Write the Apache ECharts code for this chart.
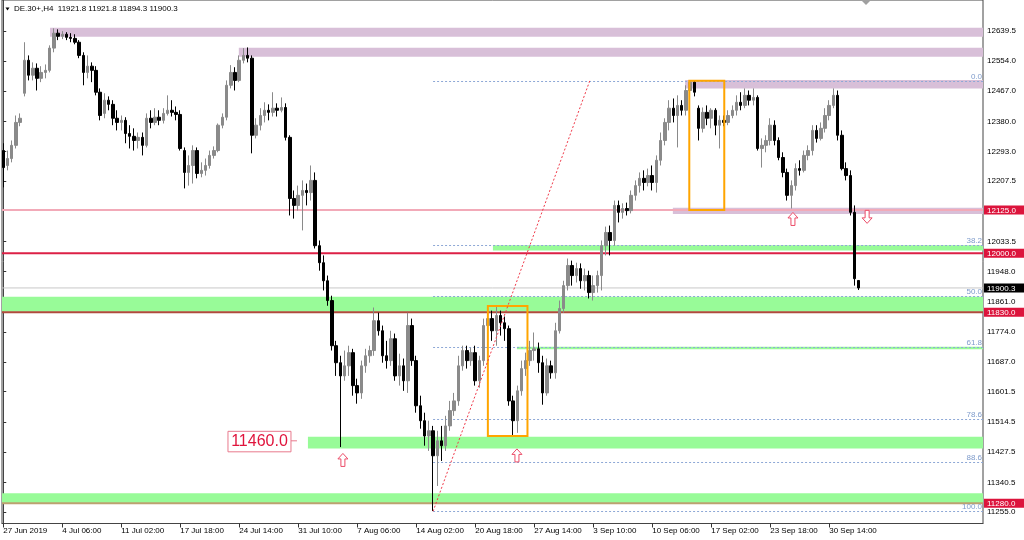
<!DOCTYPE html>
<html><head><meta charset="utf-8">
<script src="https://cdn.jsdelivr.net/npm/echarts@6/dist/echarts.min.js"></script>
<style>html,body{margin:0;padding:0;background:#fff}#c{width:1024px;height:540px}</style>
</head><body><div id="c"></div>
<script>
// ---------- data ----------
const symbolTitle = 'DE.30+,H4';
const lastBarOHLC = [11921.8, 11921.8, 11894.3, 11900.3];

const xTickIndex = [0,14,28,42,56,70,84,98,112,126,140,154,168,182,196];
const xTickLabels = ['27 Jun 2019','4 Jul 06:00','11 Jul 02:00','17 Jul 18:00','24 Jul 14:00','31 Jul 10:00','7 Aug 06:00','14 Aug 02:00','20 Aug 18:00','27 Aug 14:00','3 Sep 10:00','10 Sep 06:00','17 Sep 02:00','23 Sep 18:00','30 Sep 14:00'];
const yTickValues = [12639.5,12554.0,12467.0,12380.0,12293.0,12207.5,12033.5,11948.0,11861.0,11774.0,11687.0,11601.5,11514.5,11427.5,11340.5,11255.0];

// candles: [open, close, low, high]
const candles = [
[12296,12247,12190,12317],[12253,12273,12239,12296],[12273,12311,12262,12325],[12311,12377,12302,12397],[12377,12389,12366,12403],
[12461,12556,12452,12608],[12556,12513,12498,12570],[12513,12533,12498,12550],[12533,12504,12469,12547],[12504,12521,12493,12539],
[12521,12527,12504,12544],[12527,12591,12521,12599],[12591,12634,12579,12648],[12634,12625,12614,12645],[12625,12631,12617,12640],
[12631,12622,12614,12637],[12622,12619,12608,12634],[12619,12608,12602,12631],[12608,12570,12562,12614],[12570,12521,12484,12579],
[12521,12539,12504,12570],[12539,12527,12493,12550],[12527,12464,12455,12539],[12464,12397,12383,12475],[12403,12441,12389,12461],
[12441,12429,12412,12452],[12429,12389,12369,12441],[12389,12377,12354,12412],[12377,12383,12354,12397],[12383,12345,12317,12392],
[12345,12337,12302,12369],[12337,12325,12296,12360],[12325,12334,12302,12348],[12334,12311,12282,12348],[12311,12389,12305,12403],
[12389,12377,12360,12412],[12377,12392,12369,12418],[12392,12383,12369,12412],[12383,12403,12374,12418],[12403,12412,12397,12455],
[12412,12406,12394,12441],[12406,12400,12383,12423],[12400,12302,12296,12412],[12296,12233,12187,12305],[12233,12253,12195,12282],
[12253,12296,12201,12311],[12296,12230,12216,12305],[12230,12239,12219,12262],[12239,12253,12224,12273],[12253,12282,12244,12296],
[12282,12296,12273,12308],[12296,12369,12291,12374],[12369,12392,12360,12403],[12392,12484,12383,12498],[12484,12521,12475,12542],
[12521,12498,12469,12536],[12498,12556,12493,12570],[12556,12570,12547,12591],[12570,12562,12550,12593],[12562,12340,12288,12570],
[12340,12369,12331,12389],[12369,12397,12354,12418],[12397,12412,12377,12435],[12412,12406,12383,12429],[12406,12418,12394,12464],
[12418,12412,12394,12432],[12412,12420,12406,12449],[12420,12334,12325,12432],[12334,12158,12109,12340],[12158,12138,12100,12181],
[12138,12167,12123,12195],[12167,12181,12066,12210],[12181,12175,12138,12201],[12175,12210,12152,12253],[12210,12022,12014,12233],
[12022,11973,11950,12037],[11973,11921,11893,11994],[11921,11864,11849,11936],[11864,11734,11720,11878],[11734,11685,11647,11748],
[11685,11647,11442,11705],[11647,11676,11633,11720],[11676,11714,11647,11734],[11714,11619,11590,11725],[11619,11598,11567,11639],
[11598,11676,11581,11691],[11676,11705,11656,11725],[11705,11720,11685,11734],[11720,11806,11705,11844],[11806,11777,11763,11829],
[11777,11705,11685,11792],[11705,11691,11668,11748],[11691,11754,11676,11777],[11754,11647,11633,11769],[11647,11676,11619,11711],
[11676,11633,11604,11697],[11633,11792,11598,11829],[11792,11691,11676,11812],[11691,11561,11541,11705],[11561,11518,11495,11590],
[11518,11474,11446,11541],[11474,11489,11431,11518],[11489,11417,11258,11503],[11417,11460,11330,11489],[11460,11446,11402,11503],
[11446,11503,11431,11532],[11503,11547,11489,11575],[11547,11575,11532,11598],[11575,11676,11561,11705],[11676,11720,11662,11734],
[11720,11691,11668,11734],[11691,11714,11676,11728],[11714,11633,11619,11734],[11633,11691,11613,11705],[11691,11792,11676,11812],
[11792,11812,11763,11841],[11812,11777,11748,11835],[11777,11821,11734,11846],[11821,11800,11763,11835],[11800,11783,11748,11818],
[11783,11575,11561,11792],[11575,11518,11472,11590],[11518,11604,11483,11619],[11604,11668,11590,11691],[11668,11691,11647,11714],
[11691,11720,11676,11748],[11720,11725,11691,11772],[11725,11685,11656,11743],[11685,11598,11564,11705],[11598,11676,11590,11697],
[11676,11656,11639,11691],[11656,11777,11639,11800],[11777,11841,11769,11864],[11841,11907,11829,11921],[11907,11965,11893,11985],
[11965,11936,11907,11979],[11936,11956,11916,11973],[11956,11921,11898,11971],[11921,11936,11893,11956],[11936,11887,11870,11950],
[11887,11907,11864,11936],[11907,11936,11887,11950],[11936,12022,11893,12037],[12022,12060,11994,12077],[12060,12037,11994,12080],
[12037,12138,12022,12152],[12138,12118,12089,12152],[12118,12129,12100,12144],[12129,12123,12109,12146],[12123,12167,12115,12181],
[12167,12195,12152,12210],[12195,12216,12175,12233],[12216,12204,12181,12239],[12204,12224,12193,12244],[12224,12204,12181,12253],
[12204,12268,12175,12282],[12268,12325,12253,12348],[12325,12377,12311,12389],[12377,12418,12354,12441],[12418,12397,12377,12446],
[12397,12426,12305,12455],[12426,12412,12397,12441],[12412,12469,12397,12484],[12469,12493,12455,12498],[12493,12464,12452,12498],
[12418,12360,12325,12426],[12360,12406,12348,12420],[12406,12389,12369,12426],[12389,12412,12360,12418],[12412,12369,12340,12418],
[12369,12383,12302,12397],[12383,12377,12366,12397],[12377,12397,12369,12412],[12397,12412,12389,12426],[12412,12435,12397,12455],
[12435,12426,12412,12464],[12426,12455,12418,12475],[12455,12441,12426,12469],[12441,12449,12426,12475],[12449,12302,12296,12455],
[12302,12311,12247,12331],[12311,12325,12291,12340],[12325,12369,12311,12389],[12369,12325,12311,12383],[12325,12276,12268,12334],
[12276,12233,12219,12291],[12233,12167,12152,12244],[12167,12195,12129,12210],[12195,12244,12181,12259],[12244,12239,12224,12268],
[12239,12282,12233,12296],[12282,12296,12268,12311],[12296,12354,12282,12369],[12354,12331,12319,12369],[12331,12360,12325,12377],
[12360,12397,12348,12418],[12397,12426,12383,12441],[12426,12455,12418,12475],[12455,12340,12325,12469],[12340,12244,12239,12354],
[12244,12224,12210,12262],[12224,12118,12109,12239],[12118,11927,11907,12138],[11921.8,11900.3,11894.3,11921.8]
];

// axis ranges (bar index / price)
const X_MIN = -0.3, X_MAX = 232.5;
const Y_MIN = 11221.9, Y_MAX = 12729.6;

// zones: [fromBar, toBar, priceA, priceB]
const purpleZones = [[11.1,X_MAX,12650,12624],[55.9,X_MAX,12592,12566],[161.8,X_MAX,12499,12475],[158.9,X_MAX,12131,12113]];
const greenZones  = [[116.2,X_MAX,12023,12008],[X_MIN,X_MAX,11875,11832],[121.9,X_MAX,11731,11724],[72.3,X_MAX,11472,11438],[X_MIN,X_MAX,11309,11280]];
const orangeBoxes = [[115.0,124.4,11848,11474],[162.8,171.1,12497,12125]];

// horizontal levels
const levelPrices = [12125.0, 12000.0, 11900.3, 11830.0, 11280.0];
const levelStyles = [
  {stroke:'#F2AAB8', w:2, tag:'#DC143C'},
  {stroke:'#DC2046', w:2, tag:'#DC143C'},
  {stroke:'#C8C8C8', w:1, tag:'#000000'},
  {stroke:'#B04A3C', w:2, tag:'#DC143C'},
  {stroke:'#BCA070', w:2, tag:'#DC143C'}
];

// fibonacci
const fibAnchorLow = [102, 11257];
const fibAnchorHigh = [139.2, 12497.5];
const fibLevels = [0, 38.2, 50, 61.8, 78.6, 88.6, 100];

// arrows [bar, price]
const upArrows = [[80.6, 11405],[121.9, 11418],[187.4, 12099]];
const downArrows = [[205.0, 12105]];
// left price label [bar, price]
const priceLabel = [[69.7, 11460.0]];

// ---------- chart ----------
const FONT = '"Liberation Sans", Arial, sans-serif';
const chart = echarts.init(document.getElementById('c'), null, {renderer:'canvas'});

function zoneSeries(rows, fill, z) {
  return {
    type:'custom', z, silent:true, clip:false, data: rows,
    renderItem(params, api) {
      const cs = params.coordSys;
      const a = api.coord([api.value(0), api.value(2)]);
      const b = api.coord([api.value(1), api.value(3)]);
      const x1 = Math.max(cs.x, Math.min(a[0], b[0]));
      const x2 = Math.min(cs.x + cs.width, Math.max(a[0], b[0]));
      return {type:'rect', shape:{x:x1, y:Math.min(a[1], b[1]), width:x2 - x1, height:Math.abs(b[1] - a[1])}, style:{fill}};
    }
  };
}

function boxSeries(rows, stroke, z) {
  return {
    type:'custom', z, silent:true, clip:false, data: rows,
    renderItem(params, api) {
      const a = api.coord([api.value(0), api.value(2)]);
      const b = api.coord([api.value(1), api.value(3)]);
      return {type:'rect', shape:{x:Math.min(a[0],b[0]), y:Math.min(a[1],b[1]), width:Math.abs(b[0]-a[0]), height:Math.abs(b[1]-a[1])},
        style:{fill:'none', stroke, lineWidth:2}};
    }
  };
}

function arrowSeries(rows, dir, z) {
  const pts = [[0,-6.5],[5,-1],[2,-1],[2,6.5],[-2,6.5],[-2,-1],[-5,-1]];
  return {
    type:'custom', z, silent:true, clip:false, data: rows,
    renderItem(params, api) {
      const p = api.coord([api.value(0), api.value(1)]);
      return {type:'polygon', shape:{points: pts.map(q => [p[0] + q[0], p[1] + q[1]*dir])},
        style:{fill:'#ffffff', stroke:'#EC4C68', lineWidth:1}};
    }
  };
}

const option = {
  animation:false,
  backgroundColor:'#ffffff',
  grid:{left:2, right:41, top:0, bottom:16.5, show:true, borderColor:'#444', borderWidth:1, backgroundColor:'transparent', outerBoundsMode:'none'},
  xAxis:{
    type:'value', min:X_MIN, max:X_MAX, splitLine:{show:false},
    axisLine:{show:true, lineStyle:{color:'#444'}},
    axisTick:{show:true, customValues:xTickIndex, length:4, lineStyle:{color:'#333'}},
    axisLabel:{show:true, customValues:xTickIndex, align:'left', margin:3, color:'#000', fontSize:8, fontFamily:FONT,
      formatter:(v) => { const k = xTickIndex.indexOf(Math.round(v)); return k >= 0 ? xTickLabels[k] : ''; }}
  },
  yAxis:{
    type:'value', position:'right', min:Y_MIN, max:Y_MAX, splitLine:{show:false},
    axisLine:{show:true, lineStyle:{color:'#444'}},
    axisTick:{show:true, customValues:yTickValues, length:3, lineStyle:{color:'#333'}},
    axisLabel:{show:true, customValues:yTickValues, margin:4, color:'#000', fontSize:8, fontFamily:FONT,
      formatter:(v) => v.toFixed(1)}
  },
  graphic:[
    {type:'polygon', shape:{points:[[5.5,7.5],[9.5,7.5],[7.5,10.5]]}, style:{fill:'#000'}, z:100},
    {type:'text', x:14, y:9, style:{text: symbolTitle + '  ' + lastBarOHLC.map(v => v.toFixed(1)).join(' '),
      fill:'#000', fontSize:8, fontFamily:FONT, verticalAlign:'middle'}, z:100},
    {type:'polygon', shape:{points:[[862,1],[870,1],[866,5]]}, style:{fill:'#A0A0A0'}, z:100}
  ],
  series:[
    zoneSeries(purpleZones, '#D8BFD8', 1),
    zoneSeries(greenZones, '#98FB98', 1),
    {
      type:'custom', z:2, silent:true, clip:false, data: levelPrices.map(p => [p]),
      renderItem(params, api) {
        const cs = params.coordSys;
        const st = levelStyles[params.dataIndex];
        const price = api.value(0);
        const y = api.coord([0, price])[1];
        return {type:'group', children:[
          {type:'line', shape:{x1:cs.x, y1:y, x2:cs.x + cs.width, y2:y}, style:{stroke:st.stroke, lineWidth:st.w}},
          {type:'rect', shape:{x:cs.x + cs.width + 1, y:y - 4.5, width:40, height:9}, style:{fill:st.tag}},
          {type:'text', style:{text:price.toFixed(1), x:cs.x + cs.width + 4, y:y + 0.5, fill:'#fff', fontSize:8, fontFamily:FONT, verticalAlign:'middle', align:'left'}}
        ]};
      }
    },
    {
      type:'custom', z:2, silent:true, clip:false, data: fibLevels.map(l => [l]),
      renderItem(params, api) {
        const cs = params.coordSys;
        const lvl = api.value(0);
        const price = fibAnchorHigh[1] - lvl / 100 * (fibAnchorHigh[1] - fibAnchorLow[1]);
        const p = api.coord([fibAnchorLow[0], price]);
        const y = Math.round(p[1]) + 0.5;
        return {type:'group', children:[
          {type:'line', shape:{x1:p[0], y1:y, x2:cs.x + cs.width, y2:y}, style:{stroke:'#8EA8D6', lineWidth:1, lineDash:[2,2]}},
          {type:'text', style:{text:lvl.toFixed(1), x:cs.x + cs.width - 1, y:y - 1, fill:'#7E9BCB', fontSize:8, fontFamily:FONT, align:'right', verticalAlign:'bottom'}}
        ]};
      }
    },
    {
      type:'candlestick', z:3, silent:true, barWidth:3,
      data: candles.map((c, i) => [i, c[0], c[1], c[2], c[3]]),
      itemStyle:{color:'#8a8a8a', color0:'#000000', borderColor:'#8a8a8a', borderColor0:'#000000', borderWidth:1}
    },
    boxSeries(orangeBoxes, '#FFA500', 4),
    {
      type:'custom', z:4, silent:true, clip:false, data:[[fibAnchorLow[0], fibAnchorLow[1], fibAnchorHigh[0], fibAnchorHigh[1]]],
      renderItem(params, api) {
        const a = api.coord([api.value(0), api.value(1)]);
        const b = api.coord([api.value(2), api.value(3)]);
        return {type:'line', shape:{x1:a[0], y1:a[1], x2:b[0], y2:b[1]}, style:{stroke:'#F03A4A', lineWidth:1, lineDash:[2,2]}};
      }
    },
    arrowSeries(upArrows, 1, 5),
    arrowSeries(downArrows, -1, 5),
    {
      type:'custom', z:5, silent:true, clip:false, data: priceLabel,
      renderItem(params, api) {
        const p = api.coord([api.value(0), api.value(1)]);
        const x = p[0], y = p[1];
        return {type:'group', children:[
          {type:'line', shape:{x1:x - 6, y1:y, x2:x, y2:y}, style:{stroke:'#E8798D', lineWidth:1}},
          {type:'rect', shape:{x:x - 69, y:y - 9.5, width:63, height:20.5}, style:{fill:'#fff', stroke:'#E8798D', lineWidth:1}},
          {type:'text', style:{text:api.value(1).toFixed(1), x:x - 37.5, y:y + 1, fill:'#E0143C', fontSize:16, fontFamily:FONT, align:'center', verticalAlign:'middle'}}
        ]};
      }
    }
  ]
};
chart.setOption(option);
</script>
</body></html>
